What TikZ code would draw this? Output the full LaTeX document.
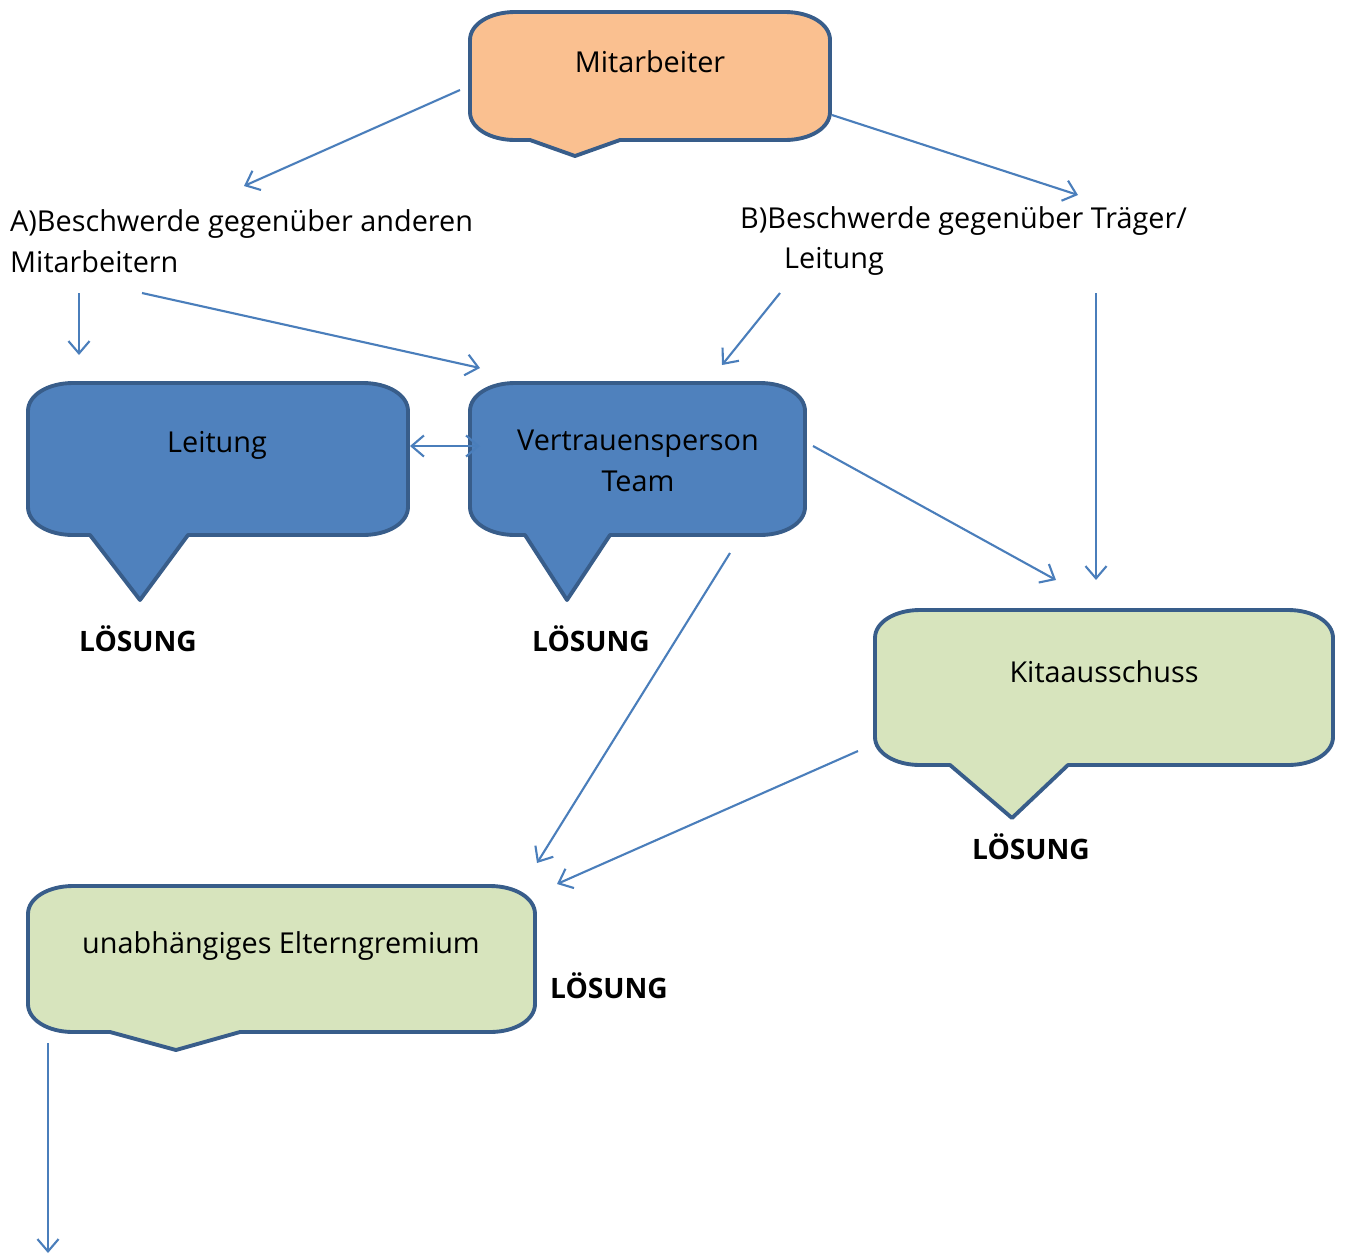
\documentclass[tikz,border=0pt]{standalone}
\usepackage{fontspec}
\setmainfont{Open Sans}
\usetikzlibrary{arrows.meta}
\definecolor{rahmen}{HTML}{385D8A}
\definecolor{pfeilblau}{HTML}{4A7EBB}
\definecolor{orangefill}{HTML}{FAC090}
\definecolor{blaufill}{HTML}{4F81BD}
\definecolor{gruenfill}{HTML}{D7E4BD}
\tikzset
{
    blase/.style    = {draw=rahmen, line width=2.2pt, line join=round, -},
    blasentext/.style = {align=center, font=\fontsize{16.4}{23}\selectfont},
    fliesstext/.style = {align=left, anchor=west, font=\fontsize{16.4}{23}\selectfont},
    loesung/.style  = {font=\fontsize{16}{23}\selectfont\bfseries}
}
% #1 fill, #2/#3 top left, #4/#5 bottom right, #6/#7 pointer base, #8/#9 pointer tip
\newcommand{\sprechblase}[9]{%
\draw[blase, fill=#1] (#2,#3+28) .. controls (#2,#3+12) and (#2+20,#3) .. (#2+45,#3) -- (#4-45,#3)
  .. controls (#4-20,#3) and (#4,#3+12) .. (#4,#3+28) -- (#4,#5-28)
  .. controls (#4,#5-12) and (#4-20,#5) .. (#4-45,#5)
  -- (#7,#5) -- (#8,#9) -- (#6,#5) -- (#2+45,#5)
  .. controls (#2+20,#5) and (#2,#5-12) .. (#2,#5-28) -- cycle;
}

\begin{document}
\begin{tikzpicture}[->, >={Straight Barb[length=7pt,width=12pt]}, x=0.02cm, y=-0.02cm]
\useasboundingbox (0,0) rectangle (1345,1255);
\sprechblase{orangefill}{470}{12}{830}{140}{530}{620}{575}{156}
\sprechblase{blaufill}{28}{383}{408}{535}{90}{188}{140}{600}
\sprechblase{blaufill}{470}{383}{805}{535}{525}{610}{567}{600}
\sprechblase{gruenfill}{875}{610}{1333}{765}{950}{1068}{1012}{818}
\sprechblase{gruenfill}{28}{886}{535}{1032}{110}{240}{176}{1050}
\node [blasentext] at (650,62) (mitarbeiter) {Mitarbeiter};
\node [blasentext] at (217,445) (leitung) {Leitung};
\node [blasentext] at (638,461) (vertrauen) {Vertrauensperson\\Team};
\node [blasentext] at (1104,672) (kita) {Kitaausschuss};
\node [blasentext] at (281,946) (eltern) {unabhängiges Elterngremium};
\node [fliesstext] at (4,241) (textA) {A)Beschwerde gegenüber anderen\\Mitarbeitern};
\node [fliesstext] at (734,241) (textB) {B)Beschwerde gegenüber Träger/\\\hspace*{25pt}Leitung};
\node [loesung] at (138,639) (loesungL) {LÖSUNG};
\node [loesung] at (591,639) (loesungV) {LÖSUNG};
\node [loesung] at (1031,847) (loesungK) {LÖSUNG};
\node [loesung] at (609,986) (loesungE) {LÖSUNG};
% Pfeilenden
\coordinate (mA) at (460,90);
\coordinate (mB) at (832,115);
\coordinate (zA) at (244,186);
\coordinate (zB) at (1078,195);
\coordinate (aL) at (79,293);
\coordinate (aV) at (142,293);
\coordinate (bV) at (780,293);
\coordinate (bK) at (1096,293);
\coordinate (zL) at (79,355);
\coordinate (zV1) at (480,368);
\coordinate (zV2) at (722,365);
\coordinate (zK1) at (1096,580);
\coordinate (lR) at (410,446);
\coordinate (vL) at (480,446);
\coordinate (vR) at (813,446);
\coordinate (zK2) at (1056,580);
\coordinate (vU) at (730,553);
\coordinate (zE1) at (537,863);
\coordinate (kL) at (858,751);
\coordinate (zE2) at (557,884);
\coordinate (eU) at (48,1043);
\coordinate (ende) at (48,1253);
\tikzset{every path/.append style={draw=pfeilblau, line width=1.2pt}}
\draw (mA) -- (zA);
\draw (mB) -- (zB);
\draw (aL) -- (zL);
\draw (aV) -- (zV1);
\draw (bV) -- (zV2);
\draw (bK) -- (zK1);
\draw[<->] (lR) -- (vL);
\draw (vR) -- (zK2);
\draw (vU) -- (zE1);
\draw (kL) -- (zE2);
\draw (eU) -- (ende);
\end{tikzpicture}
\end{document}
